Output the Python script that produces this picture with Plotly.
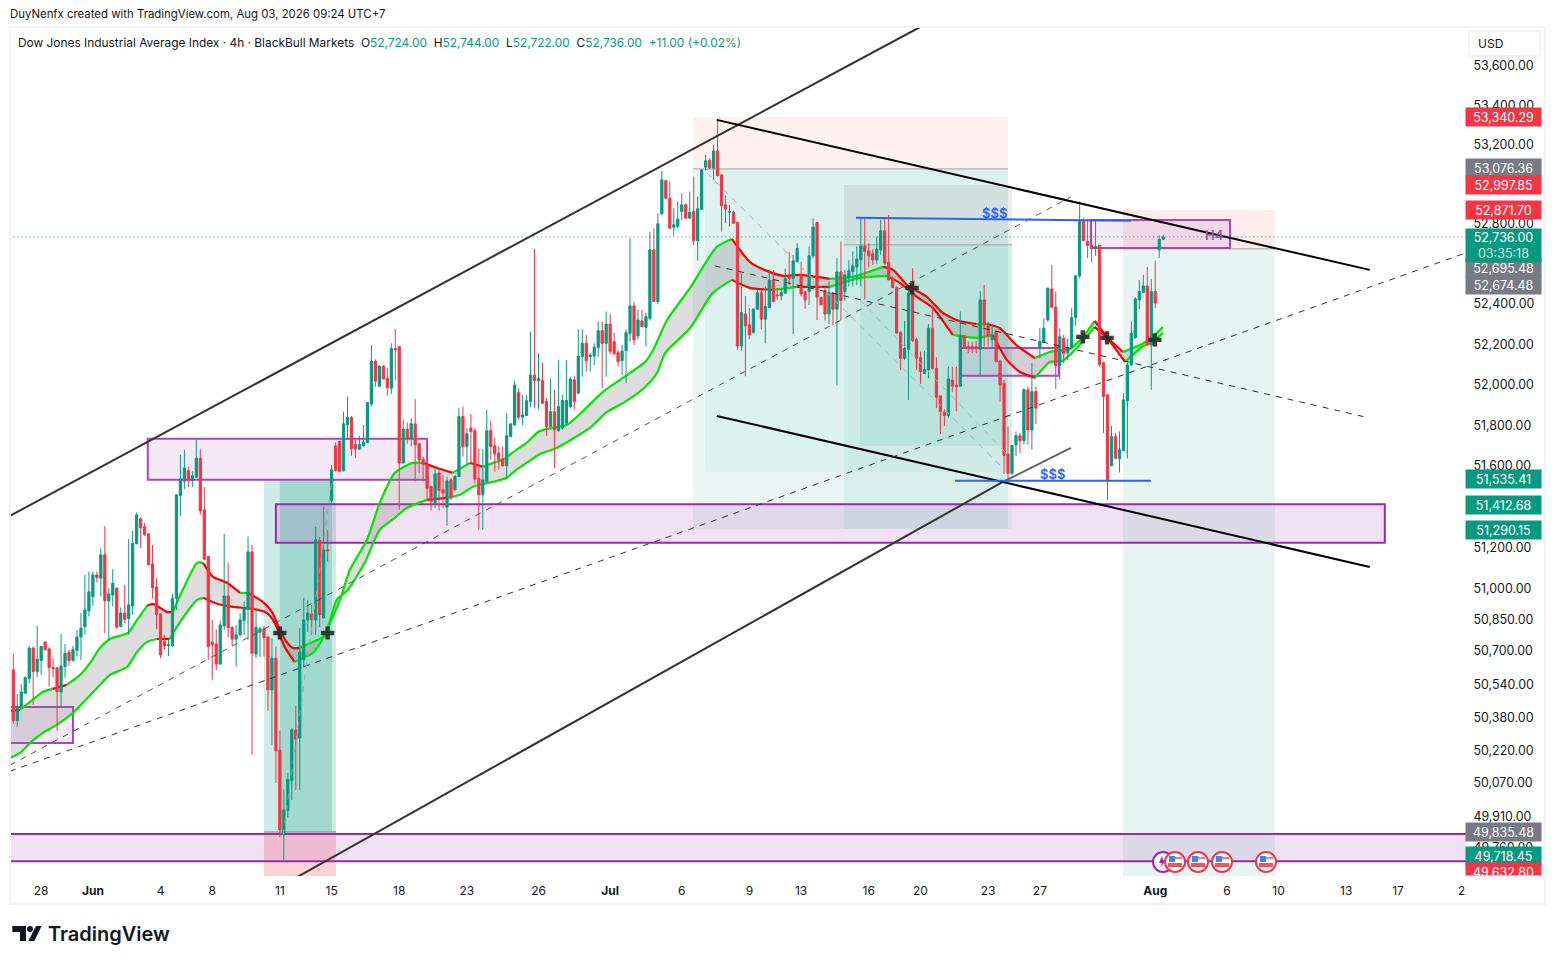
import math
import plotly.graph_objects as go

UP = '#089981'
DOWN = '#f23645'
TEXT = '#131722'
PURPLE = '#9c27b0'

# 4h candles
opens = [
    50609,50366,50436,50497,50567,50714,50601,50654,50743,50710,
    50622,50619,50503,50625,50694,50654,50703,50767,50818,50895,
    50963,51068,51052,51166,50942,50971,51004,50818,50883,50857,
    50918,51219,51341,51303,51268,51122,51009,50879,50746,50725,
    50725,50955,51455,51525,51576,51528,51545,51638,51385,51158,
    50743,50734,50638,50821,50966,50815,50757,50778,50847,50902,
    51180,50686,50791,50807,50767,50513,50665,50225,49821,49937,
    50078,50321,50283,50657,50850,50879,50850,51234,50860,51190,
    51429,51699,51722,51576,51802,51838,51705,51682,51699,51715,
    51905,52117,51993,52092,52031,51982,52180,52189,51614,51781,
    51732,51807,51709,51633,51606,51499,51418,51565,51483,51398,
    51532,51483,51548,51843,51696,51786,51773,51540,51459,51524,
    51774,51699,51663,51635,51601,51745,51802,51962,51840,51848,
    51917,52048,52018,52020,51917,51794,51867,51773,51786,51810,
    51892,52024,51958,52139,52205,52139,52142,52185,52268,52205,
    52301,52213,52159,52119,52169,52255,52391,52242,52316,52285,
    52330,52671,52413,52852,53019,52930,52784,52788,52863,52897,
    52830,52863,52717,52875,53087,53121,53082,53169,53048,52897,
    52860,52860,52809,52192,52351,52297,52258,52375,52457,52325,
    52383,52520,52446,52441,52454,52532,52528,52613,52546,52463,
    52463,52641,52808,52434,52468,52351,52455,52375,52560,52463,
    52534,52563,52585,52621,52691,52666,52651,52621,52671,52767,
    52608,52529,52483,52260,52131,52175,52455,52225,52134,52056,
    52073,52280,52081,51945,51865,51848,52023,51998,51993,52243,
    52189,52189,52189,52175,52421,52292,52222,52263,52117,52007,
    51659,51564,51704,51748,51724,51975,51777,51966,52185,52209,
    52321,52476,52385,52094,52230,52159,52185,52333,52541,52813,
    52713,52693,52680,52693,52109,51950,51602,51745,51635,51676,
    51922,52098,52233,52421,52458,52491,52197,52463,52671,52724,
]
highs = [
    50686,50494,50542,50577,50725,50722,50821,50725,50747,50718,
    50665,50622,50783,50734,50706,50725,50802,50883,51068,51085,
    51085,51085,51198,51307,51004,51096,51009,50911,51020,51242,
    51282,51372,51349,51320,51271,51214,51052,50883,50778,50754,
    50976,51462,51655,51679,51597,51573,51728,51682,51496,51161,
    50850,50805,50847,51268,51128,50818,50826,50883,50939,51255,
    51214,50907,50818,50821,50773,50762,50722,50318,50037,50116,
    50329,50436,50811,50957,50947,50923,51302,51253,51400,51288,
    51605,51715,51722,51867,51942,51845,51728,51748,51802,51912,
    52197,52125,52097,52097,52081,52205,52276,52189,51827,51814,
    51835,51930,51712,51646,51614,51503,51589,51589,51556,51548,
    51540,51556,51884,51892,51786,51855,51786,51684,51684,51876,
    51819,51737,51696,51696,51860,51807,52020,51982,51949,51949,
    52263,52676,52156,52110,51934,52031,51974,52123,51950,52123,
    52040,52044,52275,52275,52247,52156,52205,52313,52313,52363,
    52351,52258,52172,52197,52275,52729,52413,52371,52371,52358,
    52762,52779,52854,53068,53023,53014,52880,52914,52955,52905,
    52964,53039,52939,53077,53149,53132,53199,53326,53048,52944,
    52897,52867,52812,52554,52441,52380,52376,52474,52471,52487,
    52570,52570,52479,52479,52578,52661,52646,52704,52612,52463,
    52688,52830,52808,52434,52488,52513,52458,52630,52713,52571,
    52618,52663,52688,52830,52830,52704,52674,52738,52822,52825,
    52847,52538,52488,52264,52318,52471,52579,52230,52164,52169,
    52301,52396,52136,51945,51878,52089,52089,52089,52363,52247,
    52214,52214,52218,52466,52496,52313,52296,52268,52122,52023,
    51793,51704,51770,51761,51983,51991,52106,51991,52280,52330,
    52483,52596,52463,52280,52247,52230,52380,52541,52914,52830,
    52825,52822,52822,52696,52114,51955,51797,51761,51770,51958,
    52114,52313,52434,52521,52546,52585,52524,52618,52743,52744,
]
lows = [
    50353,50337,50433,50497,50545,50441,50574,50585,50703,50529,
    50574,50318,50433,50569,50628,50649,50673,50657,50778,50866,
    50918,51031,50963,50786,50751,50915,50805,50818,50834,50778,
    50875,51219,51198,51258,51117,50955,50805,50665,50706,50676,
    50722,50899,51356,51487,51496,51496,51540,51361,51141,50657,
    50561,50609,50633,50802,50767,50725,50625,50773,50778,50754,
    50201,50665,50670,50673,50414,50250,50069,49813,49703,49905,
    49987,50034,50035,50619,50792,50778,50778,50816,50855,51132,
    51410,51573,51573,51573,51728,51650,51638,51679,51696,51712,
    51892,51990,51987,52028,51945,51954,52023,51385,51614,51709,
    51696,51524,51565,51524,51426,51382,51393,51382,51393,51308,
    51434,51480,51545,51646,51601,51614,51512,51288,51288,51516,
    51630,51573,51581,51597,51540,51742,51797,51830,51802,51846,
    51889,51884,51879,51905,51748,51794,51589,51769,51777,51802,
    51884,51879,51958,52040,52065,52065,52098,52139,51983,52040,
    52152,52152,52090,52048,52007,52213,52197,52225,52285,52189,
    52318,52413,52401,52847,52927,52779,52742,52779,52821,52830,
    52825,52696,52618,52872,53073,53077,53023,53040,52762,52804,
    52788,52802,52172,52169,52042,52225,52255,52371,52275,52205,
    52380,52408,52421,52418,52454,52495,52251,52605,52438,52376,
    52396,52629,52321,52396,52318,52301,52296,51996,52321,52418,
    52488,52488,52496,52488,52424,52585,52596,52601,52646,52596,
    52518,52479,52252,52073,52123,51925,52213,52073,52004,52053,
    52032,52073,51884,51757,51796,51837,51965,51868,51990,52180,
    52156,52156,52156,52049,52189,52189,52185,52111,51917,51561,
    51515,51556,51649,51663,51704,51704,51679,51805,52131,52205,
    52313,52380,51978,52025,52106,52123,52180,52292,52529,52716,
    52630,52608,52641,52089,51761,51433,51597,51633,51568,51671,
    51638,52094,52230,52376,52455,52194,51975,52380,52630,52722,
]
closes = [
    50366,50430,50503,50572,50714,50601,50660,50722,50706,50620,
    50615,50505,50628,50689,50654,50706,50767,50810,50899,50986,
    51068,51055,51166,50944,50976,51028,50815,50883,50853,50923,
    51222,51361,51297,51264,51117,51006,50875,50681,50725,50730,
    50955,51458,51536,51590,51528,51552,51638,51380,51144,50722,
    50730,50638,50826,50966,50812,50757,50778,50850,50907,51180,
    50689,50815,50807,50764,50513,50665,50222,49845,49940,50086,
    50321,50276,50695,50850,50884,50850,51239,50874,51190,51185,
    51581,51578,51573,51807,51838,51686,51684,51705,51717,51912,
    52117,52018,52092,52028,51985,52180,52172,51614,51781,51732,
    51807,51704,51630,51610,51491,51426,51561,51480,51467,51527,
    51442,51548,51843,51696,51758,51769,51535,51459,51532,51773,
    51696,51659,51630,51601,51748,51807,51998,51840,51851,51921,
    52048,52020,52031,51909,51794,51867,51778,51892,51922,51922,
    52027,51917,52142,52205,52119,52147,52185,52268,52205,52301,
    52164,52152,52114,52167,52258,52391,52222,52321,52288,52338,
    52671,52413,52802,53023,52930,52779,52797,52825,52897,52830,
    52860,52717,52877,53073,53119,53083,53169,53044,52892,52877,
    52863,52804,52192,52358,52292,52247,52376,52457,52325,52388,
    52520,52413,52441,52457,52528,52528,52616,52679,52451,52421,
    52641,52785,52434,52396,52351,52458,52375,52560,52418,52546,
    52566,52591,52625,52691,52663,52641,52621,52674,52767,52605,
    52521,52483,52256,52131,52180,52455,52218,52131,52065,52076,
    52280,52081,51938,51868,51848,52028,51993,51990,52243,52185,
    52180,52182,52179,52421,52296,52243,52247,52114,51998,51651,
    51564,51700,51748,51724,51975,51777,51966,51884,52214,52280,
    52479,52385,52094,52238,52156,52185,52333,52541,52813,52718,
    52693,52680,52688,52098,51941,51528,51745,51638,51679,51925,
    52098,52255,52426,52463,52491,52197,52463,52405,52723,52736,
]
bar_x = list(range(len(opens)))

# moving average ribbon
upper_x = [-0.8,1.7,4.2,7.4,9.9,13.4,16.8,19.3,21.8,24.3,28.8,31.1,33.6,35.1,38.6,40.1,42.6,46.2,47.7,50.2,
           53.7,57,59,62.7,65,67,68.7,70.2,72,75.3,77.8,79.6,82.1,84.6,88.9,92.1,95.9,100.4,103,106.4,
           110.4,114.8,118,121.4,123,126.4,129,131.9,134.1,139.2,144.2,148.2,153.2,158.8,160.8,164.3,170.1,176.8,180.6,185.1,
           189.4,193.5,197.7,205.2,211,218.6,221.1,224.6,229.6,233.6,237.8,242.1,244.7,247.9,252.3,256.8,260.5,265.5,268.8,271.8,
           274.9,278.9,283.7,286.4,288.9]
upper_y = [50412,50417,50455,50503,50518,50537,50585,50643,50715,50758,50787,50850,50918,50928,50889,50889,50996,51127,51127,51059,
           51030,50981,50981,50937,50889,50802,50744,50715,50715,50744,50768,50836,50947,51093,51239,51419,51566,51615,51615,51591,
           51566,51615,51596,51620,51630,51679,51713,51767,51782,51802,51890,51965,52034,52113,52172,52321,52481,52686,52726,52611,
           52566,52541,52546,52526,52536,52586,52571,52496,52436,52356,52316,52301,52301,52281,52192,52132,52162,52177,52237,52316,
           52237,52162,52202,52237,52286]
lower_x = [-0.8,1.7,4.2,7.4,10.9,15,17.5,21.1,24.3,28.6,31.1,33.6,36.1,39.3,42.6,46.2,47.7,51.2,55.2,60.2,
           63.7,65.7,68.2,70.7,72.8,75.3,77.6,79.1,81.3,84.1,88.3,92.1,95.9,98.9,104,109,112.3,115.5,120.5,124,
           126.4,129,132.4,136.1,144.9,149.2,153.7,158.8,161.8,163.8,170.1,175.8,180.6,185.1,190.9,196.9,205.2,212.7,219.6,222.8,
           227.1,231.1,236.1,242.1,246.2,249.7,252.9,256.8,260.5,263.7,267.3,271.8,274.9,279.4,283.7,286.4,288.9]
lower_y = [50187,50211,50259,50307,50345,50403,50451,50523,50585,50623,50695,50744,50758,50758,50860,50947,50957,50928,50913,50903,
           50884,50836,50720,50647,50667,50691,50753,50816,50947,50996,51127,51288,51346,51395,51434,51444,51459,51498,51522,51542,
           51581,51615,51659,51684,51787,51866,51915,51989,52059,52157,52281,52456,52521,52481,52471,52486,52486,52531,52541,52506,
           52436,52381,52247,52232,52247,52123,52064,52034,52113,52118,52182,52286,52232,52113,52187,52212,52257]
upper_red = [(-1,1.7),(9,12),(34,40.5),(47.5,57),(59,72),(103,110.5),(114.5,118),(180.6,205.5),(218.6,242),(244.7,257),(271.8,279)]
lower_red = [(36,39.5),(47.7,51.2),(52.7,70.7),(104,109),(180.6,188.5),(196.9,205.2),(219.6,236.1),(246.2,256.8),(271.8,279.4)]

cross_x = [67,79,225.9,268.8,274.9,286.9]
cross_y = [50787,50787,52481,52237,52232,52222]

# axis labels
price_ticks = [53600,53400,53200,52800,52400,52200,52000,51800,51600,51200,51000,50850,50700,50540,50380,50220,50070,49910,49760]
date_vals = [7,20,37,50,67,80,97,114,132,150,168,185,198,215,228,245,258,287,305,318,335,348,364]
date_text = ['28','<b>Jun</b>','4','8','11','15','18','23','26','<b>Jul</b>','6','9','13','16','20','23','27','<b>Aug</b>','6','10','13','17','2']

# price tags on the right: text, centre height on the page, colour
tag_text = ['53,340.29','53,076.36','52,997.85','52,871.70','52,695.48','52,674.48','51,535.41','51,412.68','51,290.15','49,835.48','49,718.45','49,632.80']
tag_page_y = [117,168,185,210,268,285,479,505,530,832,856,872]
tag_color = [DOWN,'#787b86',DOWN,DOWN,'#787b86','#787b86',UP,UP,UP,'#787b86',UP,DOWN]

# drawings on the chart, bar index and price
teal = 'rgba(8,153,129,%s)'
red = 'rgba(242,54,69,%s)'
box_x0 = [63,67,63,170.8,170.8,173.8,208.8,208.8,212.8,278.9,278.9]
box_x1 = [81.1,80.1,81.1,250,250,250,251,251,251,317.1,317.1]
box_hi = [51532,51532,49835,53341,53078,53078,52997,52696,52696,52871,52676]
box_lo = [49835,49835,49627,53078,51290,51571,52696,51290,51699,52676,49627]
box_fill = [teal%.2,teal%.22,red%.22,red%.08,teal%.09,teal%.05,'rgba(110,110,110,.12)',teal%.07,teal%.1,red%.1,teal%.1]

zone_x0 = [33.8,66,-1,-1,238.2,270.8]
zone_x1 = [104,344.7,366,15,262.8,305.8]
zone_hi = [51733,51413,49826,50431,52182,52821]
zone_lo = [51532,51225,49697,50259,52044,52681]
zone_line = ['#ab47bc',PURPLE,PURPLE,'#ab47bc','#ab47bc','#ab47bc']
zone_fill = [.1,.14,.14,.1,.1,.1]

line_x0 = [-0.83,68.3,248.7,176.8,176.8]
line_x1 = [227.9,248.7,265.8,340.9,340.9]
line_y0 = [51356,49590,51522,53326,51846]
line_y1 = [53799,51522,51689,52571,51107]
line_color = ['#333333','#333333','#666666','#000000','#000000']

dash_x0 = [-0.83,-0.83,176.3,174.3,212.8,67.8]
dash_x1 = [265.8,365.1,339.7,249.2,249.2,80.1]
dash_y0 = [50153,50124,52591,53058,52421,49821]
dash_y1 = [52937,52656,51841,51581,51669,51532]
dash_color = ['#555555','#333333','#333333','#b5b5b5','#b5b5b5','#a0a0a0']

blue_x0 = [211.8,236.7]
blue_x1 = [280.9,285.9]
blue_y0 = [52832,51527]
blue_y1 = [52817,51527]

flag_page_x = [1175,1198,1222,1266]


def xp(px):
    return (px - 8) / 1539


def yp(py):
    return 1 - (py - 8) / 948


def rect(fig, x0, x1, y0, y1, fill, color=None, width=0):
    fig.add_shape(type='rect', x0=x0, x1=x1, y0=y0, y1=y1, xref='x', yref='y', layer='below',
                  fillcolor=fill, line=dict(color=color, width=width))


def seg(fig, x0, x1, y0, y1, color, width, dash='solid', layer='above'):
    fig.add_shape(type='line', x0=x0, x1=x1, y0=y0, y1=y1, xref='x', yref='y', layer=layer,
                  line=dict(color=color, width=width, dash=dash))


def page_rect(fig, x0, x1, y0, y1, fill, color=None, width=0):
    fig.add_shape(type='rect', x0=xp(x0), x1=xp(x1), y0=yp(y0), y1=yp(y1), xref='paper', yref='paper',
                  layer='above', fillcolor=fill, line=dict(color=color, width=width))


def page_text(fig, px, py, text, size=12, color=TEXT, anchor='left', weight=None):
    fig.add_annotation(x=xp(px - 2), y=yp(py - 1), xref='paper', yref='paper', text=text, showarrow=False,
                       xanchor=anchor, yanchor='middle', font=dict(family='Inter', size=size, color=color, weight=weight))


def ribbon_line(fig, xs, ys, red_ranges):
    # a new trace every time the colour flips
    def colour(a, b):
        mid = (a + b) / 2
        return '#ff0000' if any(lo <= mid <= hi for lo, hi in red_ranges) else '#00e600'
    start = 0
    for i in range(1, len(xs)):
        c = colour(xs[i - 1], xs[i])
        if i == len(xs) - 1 or colour(xs[i], xs[i + 1]) != c:
            fig.add_trace(go.Scatter(x=xs[start:i + 1], y=ys[start:i + 1], mode='lines', hoverinfo='skip',
                                     line=dict(color=c, width=2.2, shape='spline', smoothing=0.6), yaxis='y'))
            start = i


fig = go.Figure()

fig.add_trace(go.Scatter(x=upper_x + lower_x[::-1], y=upper_y + lower_y[::-1], mode='lines', fill='toself',
                         fillcolor='rgba(120,120,120,.25)', line=dict(width=0), hoverinfo='skip', yaxis='y'))
ribbon_line(fig, upper_x, upper_y, upper_red)
ribbon_line(fig, lower_x, lower_y, lower_red)

fig.add_trace(go.Candlestick(x=bar_x, open=opens, high=highs, low=lows, close=closes, yaxis='y2',
                             increasing=dict(line=dict(color=UP, width=1), fillcolor=UP),
                             decreasing=dict(line=dict(color=DOWN, width=1), fillcolor=DOWN),
                             whiskerwidth=0, hoverinfo='skip'))
fig.add_trace(go.Scatter(x=cross_x, y=cross_y, mode='markers', yaxis='y2', hoverinfo='skip',
                         marker=dict(symbol='cross', size=11, color='rgba(40,40,40,.9)', line=dict(width=0))))

for i in range(len(box_x0)):
    rect(fig, box_x0[i], box_x1[i], box_hi[i], box_lo[i], box_fill[i])
seg(fig, 170.8, 250, 53078, 53078, '#a0a0a0', 1, layer='below')
seg(fig, 208.8, 251, 52696, 52696, '#a0a0a0', 1, layer='below')
seg(fig, 278.9, 317.1, 52676, 52676, '#a0a0a0', 1, layer='below')
seg(fig, 63, 81.1, 49835, 49835, '#808080', 1, layer='below')

for i in range(len(zone_x0)):
    rect(fig, zone_x0[i], zone_x1[i], zone_hi[i], zone_lo[i], 'rgba(156,39,176,%s)' % zone_fill[i], zone_line[i], 2)

for i in range(len(line_x0)):
    seg(fig, line_x0[i], line_x1[i], line_y0[i], line_y1[i], line_color[i], 2)
for i in range(len(dash_x0)):
    seg(fig, dash_x0[i], dash_x1[i], dash_y0[i], dash_y1[i], dash_color[i], 1, '6px,6px')
for i in range(len(blue_x0)):
    seg(fig, blue_x0[i], blue_x1[i], blue_y0[i], blue_y1[i], '#2962ff', 2)
seg(fig, -1, 366, closes[-1], closes[-1], UP, 1, '1px,3px')

for x, y, t, c, s in [(246.5, 52857, '$$$', '#2962ff', 13), (261.3, 51561, '$$$', '#2962ff', 13), (302, 52746, 'H4', '#8e5aa6', 13)]:
    fig.add_annotation(x=x, y=math.log10(y), xref='x', yref='y', text=t, showarrow=False,
                       font=dict(family='Inter', size=s, color=c, weight=600))

# chart frame
page_rect(fig, 10, 1545, 27, 904, 'rgba(0,0,0,0)', '#f0f3fa', 2)

# event markers on the time scale
fig.add_shape(type='circle', x0=xp(1153), x1=xp(1173), y0=yp(852), y1=yp(872), xref='paper', yref='paper',
              layer='above', fillcolor='white', line=dict(color=PURPLE, width=2))
bolt = [(1162, 856), (1159, 863), (1162, 863), (1160, 868), (1166, 860), (1163, 860)]
fig.add_shape(type='path', xref='paper', yref='paper', fillcolor=PURPLE, line=dict(width=0),
              path='M ' + ' L '.join('%f,%f' % (xp(a), yp(b)) for a, b in bolt) + ' Z')
for fx in flag_page_x:
    fig.add_shape(type='circle', x0=xp(fx - 10), x1=xp(fx + 10), y0=yp(852), y1=yp(872), xref='paper', yref='paper',
                  layer='above', fillcolor='white', line=dict(color=DOWN, width=2))
    page_rect(fig, fx - 6, fx, 856, 862, '#3d86f0')
    page_rect(fig, fx, fx + 7, 857, 859, '#f27a85')
    page_rect(fig, fx - 7, fx + 7, 863, 867, '#f2505c')

# logo
logo = [(12.3, 926), (26, 926), (26, 941), (20, 941), (20, 932), (12.3, 932)]
slash = [(36, 926), (41.7, 926), (34.3, 941), (28.3, 941)]
for pts in (logo, slash):
    fig.add_shape(type='path', xref='paper', yref='paper', fillcolor=TEXT, line=dict(width=0),
                  path='M ' + ' L '.join('%f,%f' % (xp(a), yp(b)) for a, b in pts) + ' Z')
fig.add_shape(type='circle', x0=xp(27), x1=xp(33), y0=yp(926), y1=yp(932), xref='paper', yref='paper',
              fillcolor=TEXT, line=dict(width=0))
page_text(fig, 48, 935, 'TradingView', 20, TEXT, weight=600)

page_text(fig, 10, 15, 'DuyNenfx created with TradingView.com, Aug 03, 2026 09:24 UTC+7', 11.4)
g = '<span style="color:%s">%%s</span>' % UP
page_text(fig, 18, 43, 'Dow Jones Industrial Average Index · 4h · BlackBull Markets  O' + g % '52,724.00'
          + '  H' + g % '52,744.00' + '  L' + g % '52,722.00' + '  C' + g % '52,736.00'
          + '  ' + g % '+11.00 (+0.02%)', 11.9)

# USD button
page_rect(fig, 1469, 1540, 31, 56, 'white', '#e6e8ee', 1)
page_text(fig, 1478, 44, 'USD', 12)

# price tags
for t, py, c in zip(tag_text, tag_page_y, tag_color):
    fig.add_annotation(x=xp(1503.5), y=yp(py), xref='paper', yref='paper', text=t, showarrow=False, width=73, height=16,
                       xanchor='center', yanchor='middle', bgcolor=c, font=dict(family='Inter', size=12.5, color='white'))
fig.add_annotation(x=xp(1503.5), y=yp(245), xref='paper', yref='paper', showarrow=False, width=73, height=31,
                   xanchor='center', yanchor='middle', bgcolor=UP, font=dict(family='Inter', size=12.5, color='white'),
                   text='52,736.00<br><span style="color:rgba(255,255,255,.8)">03:35:18</span>')
fig.add_annotation(x=xp(1503.5), y=yp(883), xref='paper', yref='paper', text=' ', showarrow=False, width=76, height=12,
                   xanchor='center', yanchor='middle', bgcolor='white')

y_range = [math.log10(49627), math.log10(53799)]
fig.update_layout(
    width=1539,
    height=948,
    autosize=False,
    margin=dict(l=0, r=0, t=0, b=0),
    paper_bgcolor='white',
    plot_bgcolor='white',
    showlegend=False,
    boxgroupgap=0.2,
    xaxis=dict(
        domain=[xp(10), xp(1466)],
        range=[-0.83, 365.1],
        rangeslider=dict(visible=False),
        showgrid=False,
        zeroline=False,
        tickmode='array',
        tickvals=date_vals,
        ticktext=date_text,
        ticks='outside',
        ticklen=4,
        tickcolor='rgba(0,0,0,0)',
        tickfont=dict(family='Inter', size=12, color=TEXT),
        anchor='y',
    ),
    yaxis=dict(
        domain=[yp(876), yp(27)],
        type='log',
        range=y_range,
        side='right',
        showgrid=False,
        zeroline=False,
        tickmode='array',
        tickvals=price_ticks,
        ticktext=['{:,.2f}'.format(v) for v in price_ticks],
        ticks='outside',
        ticklen=4,
        tickcolor='rgba(0,0,0,0)',
        tickfont=dict(family='Inter', size=12.4, color=TEXT),
        anchor='x',
    ),
    yaxis2=dict(overlaying='y', type='log', range=y_range, side='right', visible=False, anchor='x'),
)

fig.write_html("out.html")
